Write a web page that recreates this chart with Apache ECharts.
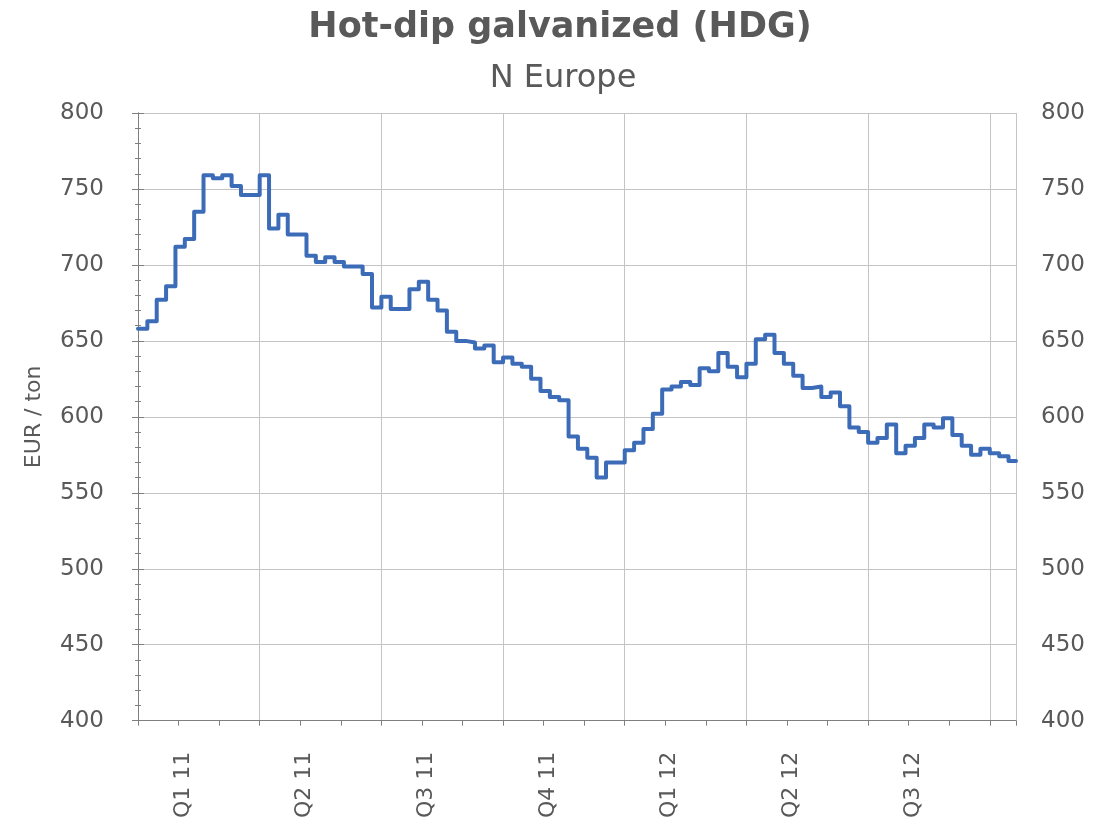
<!DOCTYPE html>
<html>
<head>
<meta charset="utf-8">
<script src="https://cdn.jsdelivr.net/npm/echarts@6/dist/echarts.min.js"></script>
<style>
  html, body { margin: 0; padding: 0; background: #fff; }
  #main { width: 1103px; height: 821px; }
</style>
</head>
<body>
<div id="main"></div>
<script>
// weekly HDG price, N Europe, EUR / ton (week 0 = first week of Jan 2011)
var prices = [
    658, 663, 677, 686, 712, 717, 735, 759, 757, 759, 752, 746, 746,
    759, 724, 733, 720, 720, 706, 702, 705, 702, 699, 699, 694, 672,
    679, 671, 671, 684, 689, 677, 670, 656, 650, 649, 645, 647, 636,
    639, 635, 633, 625, 617, 613, 611, 587, 579, 573, 560, 570, 570,
    578, 583, 592, 602, 618, 620, 623, 621, 632, 630, 642, 633, 626,
    635, 651, 654, 642, 635, 627, 619, 620, 613, 616, 607, 593, 590,
    583, 586, 595, 576, 581, 586, 595, 593, 599, 588, 581, 575, 579,
    576, 574, 571
];
var quarterLabels = ['Q1 11', 'Q2 11', 'Q3 11', 'Q4 11', 'Q1 12', 'Q2 12', 'Q3 12'];
var weeksPerQuarter = 13;
var lastWeekEnd = 93.8;

var textColor = '#595959';
var font = 'DejaVu Sans';

var myChart = echarts.init(document.getElementById('main'));

var lineData = [];
for (var i = 0; i < prices.length; i++) {
    lineData.push([i, prices[i]]);
}
// hold the last price to the end of the axis
lineData.push([lastWeekEnd, prices[prices.length - 1]]);

var labelPos = [];
for (var q = 0; q < quarterLabels.length; q++) {
    labelPos.push(q * weeksPerQuarter + 4.8);
}

var option = {
    animation: false,
    backgroundColor: '#fff',
    textStyle: { fontFamily: font },
    title: [
        {
            text: 'Hot-dip galvanized (HDG)',
            left: 555,
            textAlign: 'center',
            top: 5,
            textStyle: { fontFamily: font, fontSize: 35, fontWeight: 'bold', color: textColor }
        },
        {
            text: 'N Europe',
            left: 558,
            textAlign: 'center',
            top: 58,
            textStyle: { fontFamily: font, fontSize: 32, fontWeight: 'normal', color: textColor }
        }
    ],
    grid: {
        left: 138,
        right: 87,
        top: 113,
        bottom: 98,
        containLabel: false
    },
    xAxis: [
        {
            type: 'value',
            min: 0,
            max: lastWeekEnd,
            interval: weeksPerQuarter,
            position: 'bottom',
            axisLine: { show: true, lineStyle: { color: '#7f7f7f', width: 1 } },
            axisTick: { show: false },
            splitLine: { show: true, lineStyle: { color: '#c4c4c4', width: 1 } },
            axisLabel: {
                customValues: labelPos,
                rotate: 90,
                margin: 31,
                fontFamily: font,
                fontSize: 22,
                color: textColor,
                formatter: function (v) {
                    return quarterLabels[Math.floor(v / weeksPerQuarter)];
                }
            }
        },
        {
            // monthly tick marks
            type: 'value',
            min: 0,
            max: lastWeekEnd,
            interval: weeksPerQuarter / 3,
            position: 'bottom',
            axisLine: { show: false },
            axisTick: { show: true, length: 5, lineStyle: { color: '#7f7f7f' } },
            splitLine: { show: false },
            axisLabel: { show: false }
        }
    ],
    yAxis: [
        {
            type: 'value',
            min: 400,
            max: 800,
            interval: 50,
            name: 'EUR / ton',
            nameLocation: 'middle',
            nameGap: 93,
            nameTextStyle: { fontFamily: font, fontSize: 22, color: textColor },
            axisLine: { show: true, lineStyle: { color: '#7f7f7f', width: 1 } },
            axisTick: { show: true, length: 6, lineStyle: { color: '#7f7f7f' } },
            minorTick: { show: true, splitNumber: 5, length: 3, lineStyle: { color: '#7f7f7f' } },
            splitLine: { show: true, lineStyle: { color: '#c4c4c4', width: 1 } },
            axisLabel: { fontFamily: font, fontSize: 23, color: textColor, margin: 34 }
        },
        {
            type: 'value',
            position: 'right',
            min: 400,
            max: 800,
            interval: 50,
            axisLine: { show: true, lineStyle: { color: '#7f7f7f', width: 1 } },
            axisTick: { show: true, length: 6, lineStyle: { color: '#7f7f7f' } },
            minorTick: { show: true, splitNumber: 5, length: 3, lineStyle: { color: '#7f7f7f' } },
            splitLine: { show: false },
            axisLabel: { fontFamily: font, fontSize: 23, color: textColor, margin: 25 }
        }
    ],
    series: [
        {
            name: 'HDG N Europe',
            type: 'line',
            step: 'end',
            xAxisIndex: 0,
            yAxisIndex: 0,
            showSymbol: false,
            data: lineData,
            lineStyle: { color: '#3c6cb8', width: 4, join: 'round', cap: 'round' },
            itemStyle: { color: '#3c6cb8' }
        }
    ]
};

myChart.setOption(option);

window.onresize = function () {
    myChart.resize();
};
</script>
</body>
</html>
